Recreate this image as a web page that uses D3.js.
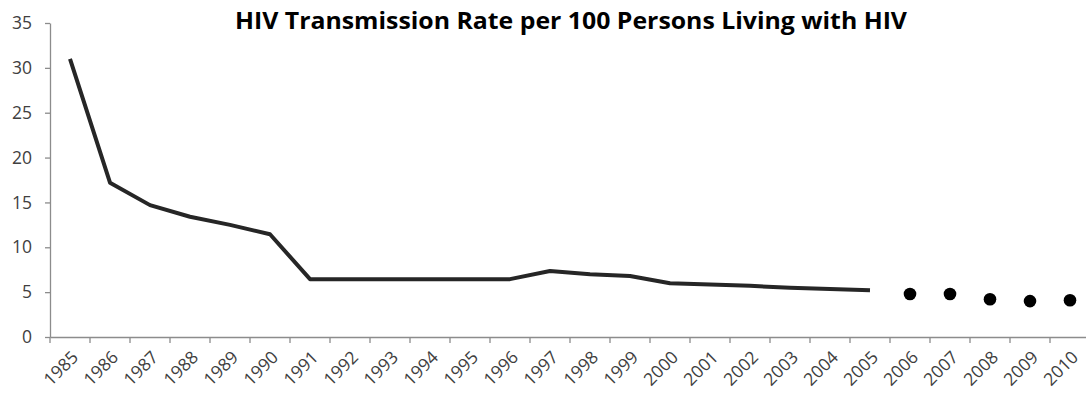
<!DOCTYPE html>
<html>
<head>
<meta charset="utf-8">
<script src="https://cdn.jsdelivr.net/npm/d3@7"></script>
<style>
  html, body { margin: 0; padding: 0; background: #fff; }
  svg { display: block; }
</style>
</head>
<body>
<svg id="chart" width="1086" height="400"></svg>
<script>
const years = ["1985","1986","1987","1988","1989","1990","1991","1992","1993","1994","1995","1996","1997","1998","1999","2000","2001","2002","2003","2004","2005","2006","2007","2008","2009","2010"];
const observedYears = ["1985","1986","1987","1988","1989","1990","1991","1992","1993","1994","1995","1996","1997","1998","1999","2000","2001","2002","2003","2004","2005"];
const observedValues = [31.0, 17.2, 14.7, 13.4, 12.5, 11.45, 6.45, 6.45, 6.45, 6.45, 6.45, 6.45, 7.35, 7.0, 6.8, 6.0, 5.85, 5.7, 5.5, 5.35, 5.2];
const projectedYears = ["2006","2007","2008","2009","2010"];
const projectedValues = [4.8, 4.8, 4.2, 4.0, 4.1];
const yTicks = [0, 5, 10, 15, 20, 25, 30, 35];
const title = "HIV Transmission Rate per 100 Persons Living with HIV";

const svg = d3.select("#chart");
const x = d3.scaleBand().domain(years).range([50, 1090]).padding(0);
const y = d3.scaleLinear().domain([0, 35]).range([337, 23]);
const cx = d => x(d) + x.bandwidth() / 2;

// Y axis
const yAxis = svg.append("g").attr("transform", "translate(50,0)")
  .call(d3.axisLeft(y).tickValues(yTicks).tickSize(5).tickPadding(13).tickSizeOuter(0));
yAxis.select(".domain").attr("stroke", "#8c8c8c").attr("stroke-width", 1.3);
yAxis.selectAll(".tick line").attr("stroke", "#8c8c8c").attr("stroke-width", 1.3);
yAxis.selectAll(".tick text")
  .attr("fill", "#404040")
  .style("font-family", "'Open Sans', 'DejaVu Sans', sans-serif")
  .style("font-size", "17.5px");

// X axis
const xAxis = svg.append("g").attr("transform", "translate(0,337)")
  .call(d3.axisBottom(x).tickSize(0).tickSizeOuter(0));
xAxis.select(".domain").attr("stroke", "#8c8c8c").attr("stroke-width", 1.3);
// tick marks at band boundaries
xAxis.selectAll(".bound").data(years).enter().append("line")
  .attr("class", "bound")
  .attr("x1", d => x(d)).attr("x2", d => x(d))
  .attr("y1", 0).attr("y2", 6)
  .attr("stroke", "#8c8c8c").attr("stroke-width", 1.3);
xAxis.selectAll(".tick text")
  .attr("fill", "#404040")
  .style("font-family", "'Open Sans', 'DejaVu Sans', sans-serif")
  .style("font-size", "17.5px")
  .attr("text-anchor", "end")
  .attr("dy", "0.35em")
  .attr("transform", "translate(5,17) rotate(-45)")
  .attr("x", 0).attr("y", 0);

// Line
const line = d3.line().x((d, i) => cx(observedYears[i])).y(d => y(d));
svg.append("path")
  .datum(observedValues)
  .attr("d", line)
  .attr("fill", "none")
  .attr("stroke", "#262626")
  .attr("stroke-width", 4)
  .attr("stroke-linejoin", "round");

// Projected dots
svg.selectAll(".dot").data(projectedValues).enter().append("circle")
  .attr("class", "dot")
  .attr("cx", (d, i) => cx(projectedYears[i]))
  .attr("cy", d => y(d))
  .attr("r", 6.3)
  .attr("fill", "#000");

// Title
svg.append("text")
  .attr("x", 571).attr("y", 29)
  .attr("text-anchor", "middle")
  .attr("textLength", 672)
  .attr("lengthAdjust", "spacingAndGlyphs")
  .style("font-family", "'Open Sans', 'Liberation Sans', sans-serif")
  .style("font-weight", "bold")
  .style("font-size", "24px")
  .attr("fill", "#000")
  .text(title);
</script>
</body>
</html>
